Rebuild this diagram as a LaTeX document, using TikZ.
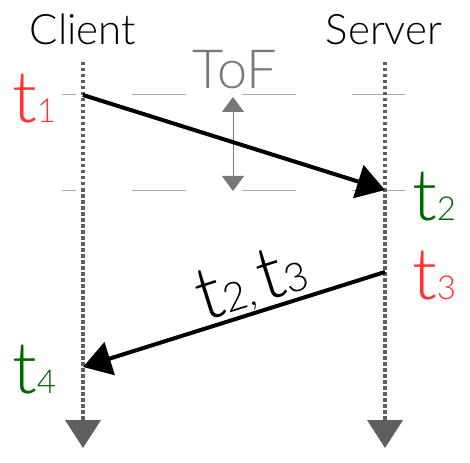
\documentclass[tikz,border=0pt]{standalone}
\usepackage{fontspec}
\setmainfont{Lato}[UprightFont=* Light]
\usetikzlibrary{arrows.meta}
\definecolor{tred}{RGB}{255,51,51}
\definecolor{tgreen}{RGB}{0,102,0}
\definecolor{lifegray}{RGB}{95,95,95}
\definecolor{guidegray}{RGB}{170,170,170}
\definecolor{tofgray}{RGB}{120,120,120}
\newcommand{\tstamp}[3][72]{{\fontsize{#1}{#1}\selectfont t}{\fontsize{#2}{#2}\selectfont #3}}
\begin{document}
\begin{tikzpicture}[x=1pt, y=-1pt,
    lifeline/.style={line width=4pt, lifegray, dash pattern=on 3.5pt off 2.5pt,
      -{Triangle[width=35pt,length=28pt]}},
    msg/.style={line width=4pt, -{Triangle[width=34pt,length=28pt]}},
    guide/.style={guidegray, line width=1pt, dash pattern=on 54pt off 56pt, dash phase=40pt},
    tofarrow/.style={tofgray, line width=1pt,
      {Triangle[width=22pt,length=15pt]}-{Triangle[width=22pt,length=15pt]}},
    header/.style={font=\fontsize{42}{42}\selectfont, anchor=base, inner sep=0pt},
    stamp/.style={anchor=base west, inner sep=0pt}]
    \useasboundingbox (0,0) rectangle (470,462);

    % end points of the lifelines and messages
    \coordinate (ctop) at (83,62);
    \coordinate (cbot) at (83,448);
    \coordinate (stop) at (385,62);
    \coordinate (sbot) at (385,448);
    \coordinate (p1) at (83,95);
    \coordinate (p2) at (385,190);
    \coordinate (p3) at (385,272);
    \coordinate (p4) at (83,367);
    \coordinate (g1a) at (62,95);
    \coordinate (g1b) at (405,95);
    \coordinate (g2a) at (62,190);
    \coordinate (g2b) at (405,190);
    \coordinate (tofa) at (233,97);
    \coordinate (tofb) at (233,191);

    % guide lines
    \draw[guide] (g1a) -- (g1b);
    \draw[guide] (g2a) -- (g2b);

    \node[header] (client) at (83,45) {Client};
    \node[header] (server) at (384,45) {Server};
    \node[header, font=\fontsize{54}{54}\selectfont, tofgray] (tof) at (235,89) {ToF};

    \draw[lifeline] (ctop) -- (cbot);
    \draw[lifeline] (stop) -- (sbot);
    \draw[tofarrow] (tofa) -- (tofb);

    % messages
    \draw[msg] (p1) -- (p2);
    \draw[msg] (p3) -- (p4);

    \node[stamp, tred] (t1) at (12,123) {\tstamp{33}{1}};
    \node[stamp, tgreen] (t2) at (412,220) {\tstamp{33}{2}};
    \node[stamp, tred] (t3) at (412,299) {\tstamp{33}{3}};
    \node[stamp, tgreen] (t4) at (12,393) {\tstamp{33}{4}};
    \node[rotate=17.5, inner sep=0pt] (lbl) at (251,283)
      {\tstamp[74]{40}{2}{\fontsize{40}{40}\selectfont,\,}\tstamp[74]{40}{3}};
\end{tikzpicture}
\end{document}
